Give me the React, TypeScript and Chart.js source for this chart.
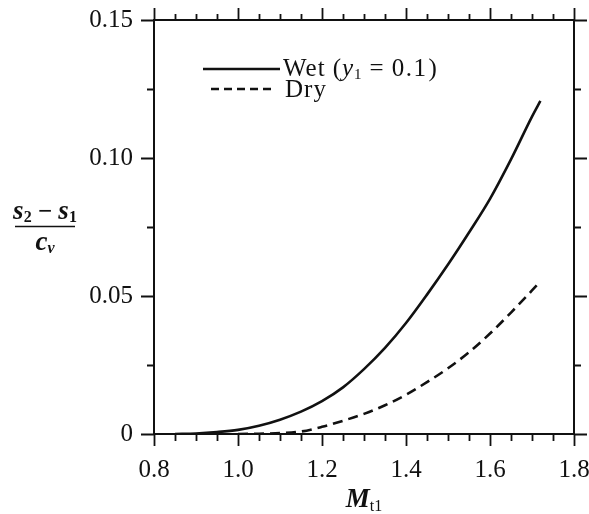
import React, { useEffect, useRef } from 'react';
import { Chart, registerables } from 'chart.js';

Chart.register(...registerables);

// Data
const wetMach = [0.85, 0.9, 0.95, 1.0, 1.05, 1.1, 1.15, 1.2, 1.25, 1.3, 1.35, 1.4, 1.45, 1.5, 1.55, 1.6, 1.65, 1.7, 1.72];
const wetValues = [0, 0.0002, 0.0007, 0.0015, 0.003, 0.0052, 0.0081, 0.0119, 0.0169, 0.0235, 0.0312, 0.0402, 0.0505, 0.0614, 0.073, 0.0852, 0.0995, 0.115, 0.1207];
const dryMach = [1.0, 1.05, 1.1, 1.15, 1.2, 1.25, 1.3, 1.35, 1.4, 1.45, 1.5, 1.55, 1.6, 1.65, 1.7, 1.72];
const dryValues = [0, 0.0001, 0.0003, 0.0009, 0.0026, 0.0048, 0.0073, 0.0104, 0.0142, 0.0188, 0.0238, 0.0296, 0.0364, 0.044, 0.052, 0.0553];

const xMin = 0.8;
const xMax = 1.8;
const xMajorStep = 0.2;
const xMinorStep = 0.05;
const yMin = 0;
const yMax = 0.15;
const yMajorStep = 0.05;
const yMinorStep = 0.025;

const legendWet = 'Wet';
const legendDry = 'Dry';

const SERIF = "'Liberation Serif', 'Times New Roman', Times, serif";
const INK = '#111';

const framePlugin = {
  id: 'frameAndLabels',
  afterDraw(chart: any) {
    const ctx = chart.ctx as CanvasRenderingContext2D;
    const xs = chart.scales.x;
    const ys = chart.scales.y;
    const { left, right, top, bottom } = chart.chartArea;
    ctx.save();
    ctx.strokeStyle = INK;
    ctx.fillStyle = INK;
    ctx.lineWidth = 2;
    ctx.lineCap = 'butt';
    ctx.strokeRect(left, top, right - left, bottom - top);

    // x ticks (top & bottom)
    const nx = Math.round((xMax - xMin) / xMinorStep);
    const perMajorX = Math.round(xMajorStep / xMinorStep);
    ctx.lineWidth = 1.8;
    for (let i = 0; i <= nx; i++) {
      const px = Math.round(xs.getPixelForValue(xMin + i * xMinorStep)) + 0.5;
      const major = i % perMajorX === 0;
      ctx.beginPath();
      ctx.moveTo(px, bottom);
      ctx.lineTo(px, bottom + (major ? 12 : 7));
      ctx.moveTo(px, top);
      ctx.lineTo(px, top - (major ? 12 : 6));
      ctx.stroke();
    }
    // y ticks (left & right)
    const ny = Math.round((yMax - yMin) / yMinorStep);
    const perMajorY = Math.round(yMajorStep / yMinorStep);
    for (let j = 0; j <= ny; j++) {
      const py = Math.round(ys.getPixelForValue(yMin + j * yMinorStep)) + 0.5;
      const major = j % perMajorY === 0;
      ctx.beginPath();
      ctx.moveTo(left, py);
      ctx.lineTo(left - (major ? 13 : 7), py);
      ctx.moveTo(right, py);
      ctx.lineTo(right + (major ? 13 : 7), py);
      ctx.stroke();
    }

    // Legend
    const lx0 = left + 49;
    const ly1 = top + 49;
    const ly2 = top + 69;
    ctx.lineWidth = 2.5;
    ctx.beginPath();
    ctx.moveTo(lx0, ly1);
    ctx.lineTo(lx0 + 77, ly1);
    ctx.stroke();
    ctx.setLineDash([8, 5]);
    ctx.beginPath();
    ctx.moveTo(lx0 + 8, ly2);
    ctx.lineTo(lx0 + 72, ly2);
    ctx.stroke();
    ctx.setLineDash([]);

    ctx.textBaseline = 'alphabetic';
    ctx.textAlign = 'left';
    const drawSeg = (txt: string, font: string, x: number, y: number, sp = 0) => {
      (ctx as any).letterSpacing = `${sp}px`;
      ctx.font = font;
      ctx.fillText(txt, x, y);
      const wd = ctx.measureText(txt).width;
      (ctx as any).letterSpacing = '0px';
      return x + wd;
    };
    const legFont = `25px ${SERIF}`;
    const legItal = `italic 25px ${SERIF}`;
    const legSub = `15px ${SERIF}`;
    const tx0 = lx0 + 80;
    const by1 = ly1 + 7;
    let tx = drawSeg(legendWet, legFont, tx0, by1, 1);
    tx = drawSeg('(', legFont, tx + 7, by1);
    tx = drawSeg('y', legItal, tx + 1, by1);
    tx = drawSeg('1', legSub, tx + 1, by1 + 3);
    tx = drawSeg('=', legFont, tx + 8, by1);
    tx = drawSeg('0.1', legFont, tx + 8, by1, 1.5);
    drawSeg(')', legFont, tx + 1, by1);
    drawSeg(legendDry, legFont, tx0 + 2, ly2 + 8, 1);

    // y-axis title: (s2 - s1) / c_v
    const cx = 45;
    const barY = Math.round((top + bottom) / 2) - 0.5;
    const mainI = `italic bold 27px ${SERIF}`;
    const subF = `bold 16px ${SERIF}`;
    const subI = `italic bold 16px ${SERIF}`;
    const parts = [
      { t: 's', f: mainI, dy: 0 },
      { t: '2', f: subF, dy: 3 },
      { t: ' \u2212 ', f: `bold 25px ${SERIF}`, dy: 0 },
      { t: 's', f: mainI, dy: 0 },
      { t: '1', f: subF, dy: 3 },
    ];
    let w = 0;
    for (const p of parts) { ctx.font = p.f; w += ctx.measureText(p.t).width; }
    let nx0 = cx - w / 2;
    for (const p of parts) { nx0 = drawSeg(p.t, p.f, nx0, barY - 8 + p.dy); }
    ctx.lineWidth = 1.5;
    ctx.beginPath();
    ctx.moveTo(cx - 30, barY);
    ctx.lineTo(cx + 30, barY);
    ctx.stroke();
    const den = [
      { t: 'c', f: mainI, dy: 0 },
      { t: 'v', f: subI, dy: 3 },
    ];
    w = 0;
    for (const p of den) { ctx.font = p.f; w += ctx.measureText(p.t).width; }
    let dx0 = cx - w / 2;
    for (const p of den) { dx0 = drawSeg(p.t, p.f, dx0, barY + 23 + p.dy); }

    // x-axis title: M_t1
    const mx = (left + right) / 2;
    const mFont = `italic bold 27px ${SERIF}`;
    const tFont = `16px ${SERIF}`;
    ctx.font = mFont;
    const mw = ctx.measureText('M').width;
    ctx.font = tFont;
    const sw = ctx.measureText('t1').width;
    let ax = mx - (mw + sw) / 2;
    ax = drawSeg('M', mFont, ax, 507);
    drawSeg('t1', tFont, ax, 511);
    ctx.restore();
  },
};

export default function App() {
  const ref = useRef<HTMLCanvasElement | null>(null);
  useEffect(() => {
    let chart: any = null;
    let cancelled = false;
    const build = () => {
      if (cancelled || !ref.current) return;
      const tickFont = { family: SERIF, size: 25 };
      chart = new Chart(ref.current, {
        type: 'line',
        data: {
          datasets: [
            {
              label: 'Wet (y1 = 0.1)',
              data: wetMach.map((m, i) => ({ x: m, y: wetValues[i] })),
              borderColor: INK,
              borderWidth: 2.6,
              pointRadius: 0,
              cubicInterpolationMode: 'monotone',
              fill: false,
            },
            {
              label: 'Dry',
              data: dryMach.map((m, i) => ({ x: m, y: dryValues[i] })),
              borderColor: INK,
              borderWidth: 2.6,
              borderDash: [10, 6],
              pointRadius: 0,
              cubicInterpolationMode: 'monotone',
              fill: false,
            },
          ],
        },
        options: {
          animation: false,
          responsive: false,
          maintainAspectRatio: false,
          layout: { padding: { top: 20, right: 15, left: 0, bottom: 0 } },
          plugins: { legend: { display: false }, tooltip: { enabled: false } },
          scales: {
            x: {
              type: 'linear',
              min: xMin,
              max: xMax,
              border: { display: false },
              grid: { display: false, drawTicks: false },
              ticks: {
                stepSize: xMajorStep,
                autoSkip: false,
                maxRotation: 0,
                padding: 21,
                color: INK,
                font: tickFont,
                callback: (v: any) => Number(v).toFixed(1),
              },
              afterFit: (s: any) => { s.height = 80; s.paddingLeft = 0; s.paddingRight = 0; },
            },
            y: {
              type: 'linear',
              min: yMin,
              max: yMax,
              border: { display: false },
              grid: { display: false, drawTicks: false },
              ticks: {
                stepSize: yMajorStep,
                padding: 21,
                color: INK,
                font: tickFont,
                callback: (v: any) => (Math.abs(Number(v)) < 1e-9 ? '0' : Number(v).toFixed(2)),
              },
              afterFit: (s: any) => { s.width = 154; s.paddingTop = 0; s.paddingBottom = 0; },
            },
          },
        } as any,
        plugins: [framePlugin],
      });
    };
    const fonts: any = (document as any).fonts;
    if (fonts && fonts.load) {
      Promise.all([
        fonts.load(`25px "Liberation Serif"`),
        fonts.load(`italic 25px "Liberation Serif"`),
        fonts.load(`bold italic 25px "Liberation Serif"`),
        fonts.load(`bold 25px "Liberation Serif"`),
      ]).then(build, build);
    } else {
      build();
    }
    return () => {
      cancelled = true;
      if (chart) chart.destroy();
    };
  }, []);
  return (
    <div style={{ position: 'absolute', left: 0, top: 0, width: 589, height: 514, background: '#fff', fontFamily: SERIF }}>
      <canvas ref={ref} width={589} height={514} style={{ display: 'block' }} />
    </div>
  );
}
